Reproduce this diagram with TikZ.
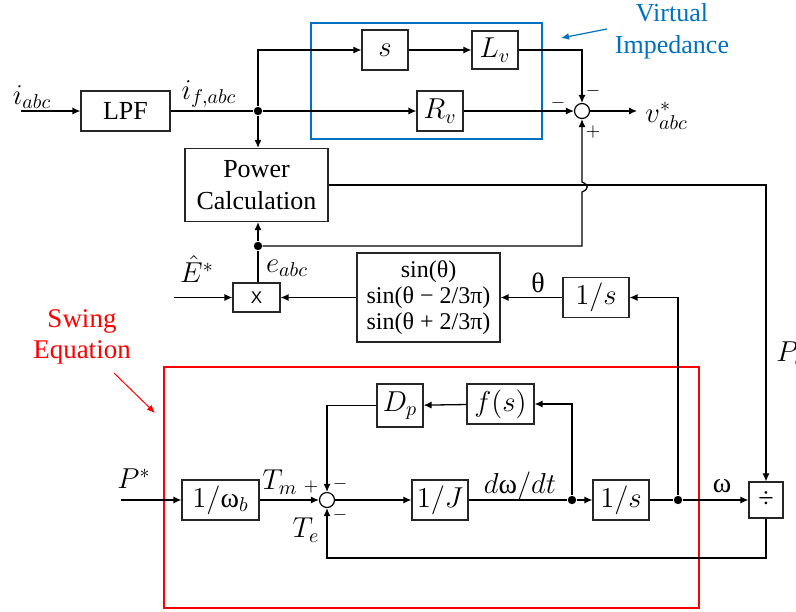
\documentclass[tikz,border=0pt]{standalone}
\usepackage{fontspec}
\setmainfont{Liberation Serif}
\newfontfamily\sansX{Liberation Sans}
\usetikzlibrary{arrows.meta}
\definecolor{vblue}{RGB}{0,112,192}
\begin{document}
\begin{tikzpicture}[x=0.5pt,y=-0.5pt,
  blk/.style={draw=black!85, line width=0.6pt, inner sep=0pt, font=\fontsize{14}{16}\selectfont},
  txt/.style={font=\fontsize{13}{16}\selectfont},
  sumc/.style={draw, circle, minimum size=7.5pt, inner sep=0pt, line width=0.6pt},
  dotc/.style={circle, fill, inner sep=0pt, minimum size=4.2pt},
  sig/.style={line width=0.65pt, -{Latex[length=4pt,width=3.6pt]}},
  ln/.style={line width=0.65pt},
  lbl/.style={font=\fontsize{14}{16}\selectfont, inner sep=0pt},
  sgn/.style={font=\fontsize{9}{10}\selectfont, inner sep=0pt},
  frameb/.style={draw=vblue, line width=1pt},
  framer/.style={draw=red, line width=1pt}
]
\useasboundingbox (0,0) rectangle (796,611);

% ---------- frames ----------
\draw[frameb] (311,23) rectangle (542,139);
\draw[framer] (164,367) rectangle (699,608);

% ---------- upper part ----------
\coordinate (in) at (21,111);
\node[lbl] (iabc) at (32,97) {$i_{abc}$};
\node[blk, txt, minimum width=44.5pt, minimum height=20pt] (lpf) at (125.5,111) {LPF};
\node[dotc] (j1) at (258,111) {};
\node[lbl] (ifabc) at (209,94) {$i_{f,abc}$};
\node[blk, minimum width=23pt, minimum height=20pt] (s) at (385,50) {$s$};
\node[blk, minimum width=23pt, minimum height=19pt] (lv) at (495,50) {$L_v$};
\node[blk, minimum width=23pt, minimum height=20pt] (rv) at (440,111) {$R_v$};
\node[sumc] (sum1) at (582,111) {};
\coordinate (vout) at (637,111);
\node[lbl, anchor=west] (vlab) at (645,116) {$v^*_{abc}$};
\node[sgn] (s1a) at (593,91) {$-$};
\node[sgn] (s1b) at (558,103) {$-$};
\node[sgn] (s1c) at (593,132) {$+$};

\node[text=vblue, align=center, font=\fontsize{13}{16}\selectfont] (vi) at (672,31) {Virtual\\Impedance};
\coordinate (va1) at (607,29);
\coordinate (va2) at (561,38);
\draw[vblue, line width=0.6pt, -{Latex[length=4pt,width=3.4pt]}] (va1) -- (va2);

\node[blk, txt, align=center, minimum width=71.5pt, minimum height=36.5pt] (pc) at (256.5,185) {Power\\Calculation};
\node[dotc] (j2) at (258,246) {};
\node[blk, font=\sansX\fontsize{8.5}{10}\selectfont, minimum width=23.5pt, minimum height=14.5pt] (mx) at (256.5,297.5) {X};
\node[lbl] (Eh) at (197,269) {$\hat{E}^*$};
\coordinate (ein) at (174,297.5);
\node[lbl] (eabc) at (287,268) {$e_{abc}$};
\node[blk, align=center, font=\fontsize{12}{13}\selectfont, minimum width=71.5pt, minimum height=44.5pt] (sinb) at (428.5,297.5) {sin(θ)\\sin(θ − 2/3π)\\sin(θ + 2/3π)};
\node[blk, minimum width=33pt, minimum height=20pt] (int1) at (596,297.5) {$1/s$};
\node[lbl, font=\fontsize{14}{16}\selectfont] (th) at (538,283) {θ};
\node[lbl, anchor=west] (pe) at (776,354) {$P_e$};

% ---------- swing equation ----------
\node[text=red, align=center, font=\fontsize{13.5}{15.5}\selectfont] (se) at (82,337) {Swing\\Equation};
\coordinate (sa1) at (114,373);
\coordinate (sa2) at (155,413);
\draw[red, line width=0.5pt, -{Latex[length=4pt,width=3.4pt]}] (sa1) -- (sa2);

\coordinate (pin) at (121,500);
\node[lbl] (pstar) at (134,479) {$P^*$};
\node[blk, minimum width=38.5pt, minimum height=20pt] (wb) at (220.5,500) {$1/\mbox{ω}_b$};
\node[sumc] (sum2) at (327,500) {};
\node[lbl] (tm) at (280,482) {$T_m$};
\node[sgn] (s2a) at (311,487) {$+$};
\node[sgn] (s2b) at (340,484) {$-$};
\node[sgn] (s2c) at (340,515) {$-$};
\node[lbl] (te) at (306,530) {$T_e$};
\node[blk, minimum width=23pt, minimum height=21.5pt] (dp) at (400,405.5) {$D_p$};
\node[blk, minimum width=33.5pt, minimum height=20pt] (fs) at (500.5,404) {$f(s)$};
\node[blk, minimum width=28pt, minimum height=20pt] (ij) at (440,500) {$1/J$};
\node[dotc] (j3) at (572,500) {};
\node[lbl] (dwdt) at (520,486) {$d\mbox{ω}/dt$};
\node[blk, minimum width=28pt, minimum height=20pt] (int2) at (621,500) {$1/s$};
\node[dotc] (j4) at (678,500) {};
\node[lbl] (wl) at (722,486) {ω};
\node[blk, minimum width=17pt, minimum height=18pt] (div) at (766,500) {÷};
\coordinate (fb) at (766,558);

% ---------- connectors ----------
\draw[sig] (in) -- (lpf);
\draw[ln] (lpf) -- (j1);
\draw[sig] (j1) |- (s);
\draw[sig] (j1) -- (rv);
\draw[sig] (j1) -- (j1 |- pc.north);
\draw[sig] (s) -- (lv);
\draw[sig] (lv) -| (sum1);
\draw[sig] (rv) -- (sum1);
\draw[sig] (sum1) -- (vout);
\draw[sig] (pc.east) -| (div.north);
\draw[sig] (j2) -- (582,246) -- (582,192) .. controls (589,189) and (589,185) .. (582,182) -- (sum1.south);
\draw[sig] (j2) -- (j2 |- pc.south);
\draw[ln] (mx.north -| j2) -- (j2);
\draw[sig] (ein) -- (mx);
\draw[sig] (sinb) -- (mx);
\draw[sig] (int1) -- (sinb);
\draw[sig] (j4) |- (int1);

\draw[sig] (pin) -- (wb);
\draw[sig] (wb) -- (sum2);
\draw[sig] (sum2) -- (ij);
\draw[ln] (ij) -- (j3);
\draw[sig] (j3) -- (int2);
\draw[ln] (int2) -- (j4);
\draw[sig] (j4) -- (div);
\draw[sig] (j3) |- (fs);
\draw[sig] (fs) -- (dp);
\draw[sig] (dp) -| (sum2);
\draw[sig] (div) -- (fb) -| (sum2);
\end{tikzpicture}
\end{document}
